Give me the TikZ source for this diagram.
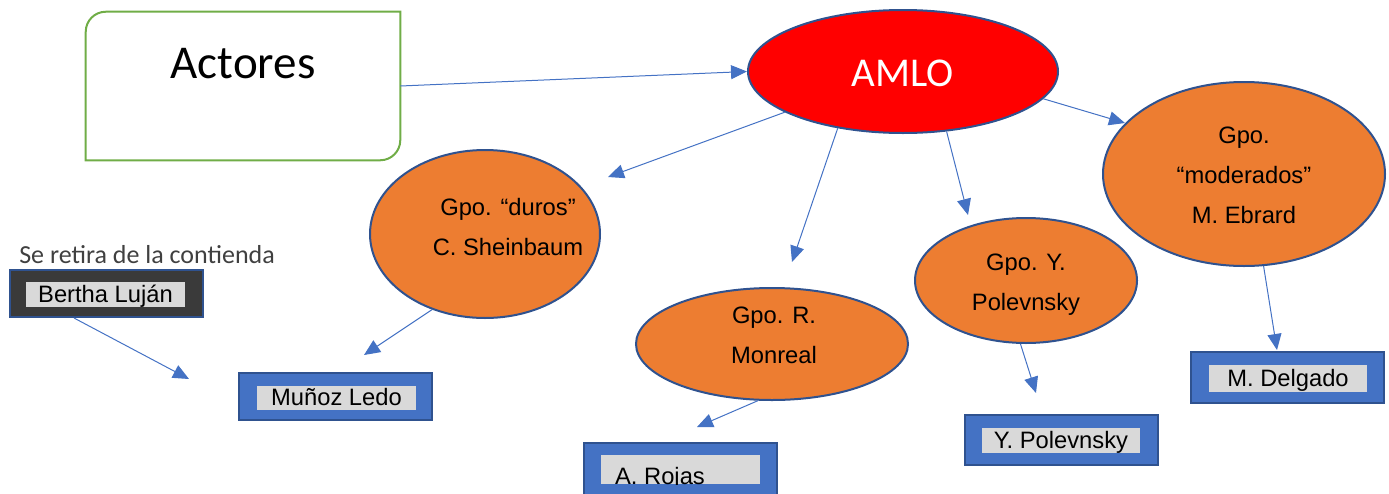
\documentclass[tikz,border=0pt]{standalone}
\usepackage{fontspec}
\setmainfont{Liberation Sans}
\newfontfamily\calibri{Carlito}
\usepackage{xcolor}
\usepackage{tikz}
\usetikzlibrary{arrows.meta,positioning,shapes.geometric}

\definecolor{azul}{HTML}{4472C4}
\definecolor{azulosc}{HTML}{2F528F}
\definecolor{naranja}{HTML}{ED7D31}
\definecolor{verde}{HTML}{70AD47}
\definecolor{gris}{HTML}{D9D9D9}
\definecolor{oscuro}{HTML}{3A3A3A}
\definecolor{texgris}{HTML}{404040}

\tikzset{
grupo/.style={ellipse, draw=azulosc, line width=1.5pt, fill=naranja, inner sep=0pt},
gtext/.style={align=center, inner sep=0pt, font=\fontsize{17.8}{30}\selectfont},
caja/.style={rectangle, draw=azulosc, line width=1.5pt, fill=azul, minimum width=144.75pt, inner sep=0pt},
etiq/.style={rectangle, fill=gris, inner sep=0pt, minimum width=119pt,
text height=12.7pt, text depth=0pt, font=\fontsize{17.8}{20}\selectfont},
flecha/.style={color=azul, line width=0.75pt, -{Triangle[length=12pt,width=10.5pt]}}
}

\begin{document}
\begin{tikzpicture}[x=0.75pt,y=-0.75pt]
\useasboundingbox (0,0) rectangle (1389,493);

\node[minimum width=235.5pt, inner sep=0pt, text height=49.5pt, text depth=61.5pt,
font=\calibri\fontsize{35.3}{40}\selectfont] (actores) at (243,86) {Actores};
\draw[verde, line width=1.5pt] (actores.south west)
-- ([yshift=-15pt]actores.north west) arc[start angle=180, end angle=90, radius=15pt]
-- (actores.north east)
-- ([yshift=15pt]actores.south east) arc[start angle=0, end angle=-90, radius=15pt]
-- cycle;

\node[ellipse, draw=azulosc, line width=1.5pt, fill=red, inner sep=0pt,
minimum width=232.5pt, minimum height=92.25pt, text=white, text height=21.8pt, text depth=0pt,
font=\calibri\fontsize{30.7}{34}\selectfont] (amlo) at (903,71.5) {AMLO};

% grupos
\node[grupo, minimum width=172.5pt, minimum height=126pt] (duros) at (485,234) {};
\node[gtext] (durostxt) at (508,227.5) {Gpo. “duros”\\C. Sheinbaum};
\node[grupo, minimum width=204pt, minimum height=84pt] (monreal) at (772,344) {};
\node[gtext] (monrealtxt) at (774,335) {Gpo. R.\\Monreal};
\node[grupo, minimum width=166.5pt, minimum height=93.75pt] (polev) at (1026,280.5) {};
\node[gtext] (polevtxt) at (1026,285) {Gpo. Y.\\Polevnsky};
\node[grupo, minimum width=211.5pt, minimum height=138pt] (moder) at (1244,174) {};
\node[gtext] (modertxt) at (1244,175) {Gpo.\\“moderados”\\M. Ebrard};

% personas
\node[anchor=base west, inner sep=0pt, text=texgris, font=\calibri\fontsize{19.5}{22}\selectfont]
(retira) at (19,263) {Se retira de la contienda};
\node[caja, fill=oscuro, minimum height=35.25pt] (bertha) at (106.5,293.5) {};
\node[etiq, minimum height=18.75pt] (berthatxt) at (105.5,294) {Bertha Luján};
\node[caja, minimum height=35.25pt] (munoz) at (335.5,396.5) {};
\node[etiq, minimum height=18pt] (munoztxt) at (336.5,397.5) {Muñoz Ledo};
\node[caja, minimum height=40.5pt] (rojas) at (680.5,470) {};
\node[etiq, minimum height=21.75pt] (rojasfondo) at (680.5,469.5) {};
\begin{scope}
\clip (rojasfondo.south west) rectangle (rojasfondo.north east);
\node[etiq, fill=none, minimum width=0pt] (rojastxt) at (660,476) {A. Rojas};
\end{scope}
\node[caja, minimum height=37.5pt] (ypol) at (1061.5,440) {};
\node[etiq, minimum height=18.75pt] (ypoltxt) at (1061,440.5) {Y. Polevnsky};
\node[caja, minimum height=38.25pt] (delgado) at (1287.5,377.5) {};
\node[etiq, minimum height=20.25pt] (delgadotxt) at (1288,378) {M. Delgado};

% puntas sueltas
\coordinate (pduros) at (608,177);
\coordinate (pmonreal) at (792,262);
\coordinate (ppolev) at (968,215);
\coordinate (pmoder) at (1125,123);
\coordinate (pbertha) at (189,379);
\coordinate (pmunoz) at (364,355);
\coordinate (projas) at (697,427);
\coordinate (pypol) at (1036,393);
\coordinate (pdelgado) at (1277,350);

\path[flecha]
(actores.east) edge (amlo.west)
(amlo.199) edge (pduros)
(amlo.221) edge (pmonreal)
(amlo.306) edge (ppolev)
(amlo.349) edge (pmoder)
(bertha.217) edge (pbertha)
(duros.235) edge (pmunoz)
(monreal.256) edge (projas)
(polev.265) edge (pypol)
(moder.282) edge (pdelgado);
\end{tikzpicture}
\end{document}
